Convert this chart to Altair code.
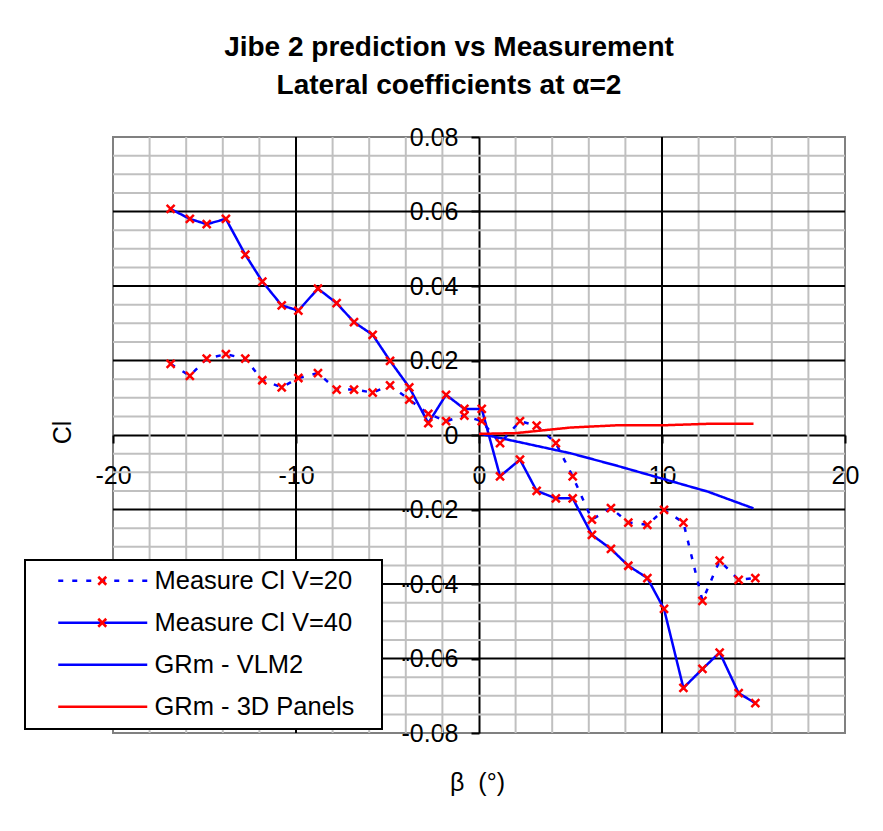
import altair as alt
import pandas as pd

# ---------------- data ----------------
beta_meas = [-16.85, -15.8, -14.88, -13.83, -12.77, -11.84, -10.78, -9.87, -8.8, -7.78,
             -6.83, -5.81, -4.86, -3.81, -2.77, -1.8, -0.8, 0.15, 1.15, 2.24, 3.15, 4.2,
             5.12, 6.17, 7.21, 8.16, 9.2, 10.11, 11.17, 12.21, 13.15, 14.19, 15.1]
cl_v20 = [0.0191, 0.0159, 0.0205, 0.0217, 0.0205, 0.0147, 0.0128, 0.0153, 0.0166, 0.0122,
          0.0122, 0.0114, 0.0133, 0.0095, 0.0057, 0.0037, 0.0052, 0.0037, -0.0022, 0.0037,
          0.0025, -0.0022, -0.0111, -0.0227, -0.0196, -0.0235, -0.0241, -0.0201, -0.0235,
          -0.0445, -0.0337, -0.0389, -0.0384]
cl_v40 = [0.0607, 0.0580, 0.0566, 0.0580, 0.0484, 0.0412, 0.0348, 0.0334, 0.0393, 0.0354,
          0.0303, 0.0269, 0.0199, 0.0128, 0.0032, 0.0108, 0.0070, 0.0070, -0.0111, -0.0066,
          -0.0150, -0.0170, -0.0170, -0.0268, -0.0306, -0.0351, -0.0384, -0.0467, -0.0679,
          -0.0628, -0.0584, -0.0693, -0.0720]
beta_model = [0, 2, 5, 7.5, 10, 12.5, 15]
cl_vlm2 = [0.0004, -0.0017, -0.0049, -0.0082, -0.0117, -0.0152, -0.0197]
cl_3d = [0.0003, 0.0005, 0.0020, 0.0026, 0.0026, 0.0030, 0.0030]

series_names = ["Measure Cl V=20", "Measure Cl V=40", "GRm - VLM2", "GRm - 3D Panels"]
series_colors = ["#0000FF", "#0000FF", "#0000FF", "#FF0000"]
series_dash = [[5, 9], [1, 0], [1, 0], [1, 0]]

x_ticks = [-20, -10, 0, 10, 20]
y_ticks = [-0.08, -0.06, -0.04, -0.02, 0, 0.02, 0.04, 0.06, 0.08]
x_major_grid = [-10, 10]
y_major_grid = [-0.06, -0.04, -0.02, 0.02, 0.04, 0.06]
x_minor_grid = [-18, -16, -14, -12, -8, -6, -4, -2, 2, 4, 6, 8, 12, 14, 16, 18]
y_minor_grid = [-0.075, -0.07, -0.065, -0.055, -0.05, -0.045, -0.035, -0.03, -0.025,
                -0.015, -0.01, -0.005, 0.005, 0.01, 0.015, 0.025, 0.03, 0.035,
                0.045, 0.05, 0.055, 0.065, 0.07, 0.075]

title_lines = ["Jibe 2 prediction vs Measurement", "Lateral coefficients at \u03b1=2"]

# ---------------- tables ----------------
rows = []
for b, c in zip(beta_meas, cl_v20):
    rows.append({"beta": b, "cl": c, "series": series_names[0]})
for b, c in zip(beta_meas, cl_v40):
    rows.append({"beta": b, "cl": c, "series": series_names[1]})
for b, c in zip(beta_model, cl_vlm2):
    rows.append({"beta": b, "cl": c, "series": series_names[2]})
for b, c in zip(beta_model, cl_3d):
    rows.append({"beta": b, "cl": c, "series": series_names[3]})
df = pd.DataFrame(rows)
meas = df[df["series"].isin(series_names[:2])]

FONT = "Liberation Sans, Arial, sans-serif"
W, H = 732, 596

xscale = alt.Scale(domain=[-20, 20], nice=False, zero=False)
yscale = alt.Scale(domain=[-0.08, 0.08], nice=False, zero=False)

xaxis = alt.Axis(values=x_ticks, title="\u03b2\u00a0\u00a0(\u00b0)", offset=-298, grid=False,
                 domainColor="black", domainWidth=2, tickColor="black", tickWidth=2,
                 tickSize=8, labelFont=FONT, labelFontSize=25, labelColor="black",
                 labelPadding=20, labelFlush=False, labelOverlap=False,
                 labelExpr="'' + datum.value",
                 titleFont=FONT, titleFontSize=25, titleFontWeight="normal",
                 titleColor="black", titleX=364, titleY=347, titleBaseline="middle",
                 zindex=0)
yaxis = alt.Axis(values=y_ticks, title="Cl", offset=-366, grid=False,
                 domainColor="black", domainWidth=2, tickColor="black", tickWidth=2,
                 tickSize=8, labelFont=FONT, labelFontSize=25, labelColor="black",
                 labelPadding=13, labelFlush=False, labelOverlap=False,
                 labelExpr="'' + datum.value",
                 titleFont=FONT, titleFontSize=25, titleFontWeight="normal",
                 titleColor="black", titleX=-417, titleY=295, titleAngle=270,
                 titleBaseline="middle", zindex=0)


def X(f):
    return alt.X(f, type="quantitative", scale=xscale, axis=xaxis)


def Y(f):
    return alt.Y(f, type="quantitative", scale=yscale, axis=yaxis)


minor_v = alt.Chart(pd.DataFrame({"gx": x_minor_grid})).mark_rule(
    color="#C0C0C0", strokeWidth=2).encode(x=X("gx"))
minor_h = alt.Chart(pd.DataFrame({"gy": y_minor_grid})).mark_rule(
    color="#C0C0C0", strokeWidth=2).encode(y=Y("gy"))
major_v = alt.Chart(pd.DataFrame({"gx": x_major_grid})).mark_rule(
    color="black", strokeWidth=2).encode(x=X("gx"))
major_h = alt.Chart(pd.DataFrame({"gy": y_major_grid})).mark_rule(
    color="black", strokeWidth=2).encode(y=Y("gy"))

legA = alt.Legend(title=" ", titleOrient="right", titlePadding=20, titleFontSize=25,
                  orient="none", legendX=-88, legendY=423, direction="vertical",
                  symbolType="M-8.9,0H8.9", symbolSize=100, symbolStrokeWidth=2.5,
                  symbolOffset=57, labelOffset=39,
                  labelFont=FONT, labelFontSize=25.5, labelColor="black",
                  labelLimit=500, padding=8, rowPadding=15,
                  fillColor="white", strokeColor="black")

xpath = "M-1,-1L1,1M-1,1L1,-1"
legB = alt.Legend(title=None, orient="none", legendX=-31.5, legendY=423, direction="vertical",
                  symbolSize=64, symbolStrokeWidth=2.5, symbolStrokeColor="#FF0000",
                  symbolFillColor="transparent", labelFont=FONT, labelFontSize=25.5,
                  labelExpr="'\u00a0'", labelOpacity=0, labelLimit=500,
                  padding=8, rowPadding=15)

lines = alt.Chart(df).mark_line(strokeWidth=2.5).encode(
    x=X("beta"), y=Y("cl"),
    color=alt.Color("series:N", scale=alt.Scale(domain=series_names, range=series_colors),
                    legend=legA),
    strokeDash=alt.StrokeDash("series:N",
                              scale=alt.Scale(domain=series_names, range=series_dash),
                              legend=legA),
)
points = alt.Chart(meas).mark_point(filled=False, color="#FF0000", strokeWidth=2.5,
                                    size=64, opacity=1).encode(
    x=X("beta"), y=Y("cl"),
    shape=alt.Shape("series:N", scale=alt.Scale(domain=series_names[:2],
                                                range=[xpath, xpath]), legend=legB),
)

chart = alt.layer(minor_v, minor_h, major_v, major_h, lines, points).properties(
    width=W, height=H,
    title=alt.Title(text=title_lines, font=FONT, fontSize=28, fontWeight="bold",
                    color="black", anchor="middle", dx=-30, dy=40, offset=37,
                    baseline="bottom", lineHeight=38),
    autosize=alt.AutoSizeParams(type="none"),
    padding={"left": 105, "top": 129, "right": 30, "bottom": 90},
).configure_view(stroke="#808080", strokeWidth=2).configure_legend(strokeWidth=2)

chart.save("out.html", embed_options={"renderer": "svg", "actions": False})
